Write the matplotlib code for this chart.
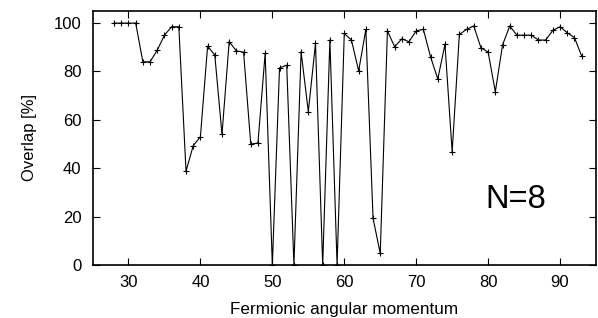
from matplotlib import pyplot as plt
import numpy as np

plt.rcParams['font.family'] = ['Liberation Sans', 'DejaVu Sans']

momentum = np.arange(28, 94)
overlap = [100, 100, 100, 100, 84, 84, 88.8, 95, 98.5, 98.5,
           38.8, 49.3, 53, 90.5, 86.8, 54, 92.3, 88.5, 88, 50,
           50.4, 87.5, 0, 81.5, 82.6, 0, 88.1, 63.4, 91.6, 0,
           93, 0, 95.7, 93, 80.2, 97.4, 19.3, 4.8, 96.8, 90.2,
           93.5, 92.3, 96.8, 97.4, 86, 76.9, 91.2, 46.8, 95.3, 97.4,
           98.8, 89.8, 88, 71.6, 90.9, 98.8, 95, 95, 95, 93,
           93, 97, 98.5, 96, 94, 86.4]

fig = plt.figure(figsize=(5.98, 3.18), dpi=100)
ax = fig.add_axes([0.1547, 0.1667, 0.842, 0.7987])

ax.plot(momentum, overlap, color='black', linewidth=0.8, marker='+',
        markersize=5, markeredgewidth=0.8)

ax.set_xlim(25, 95)
ax.set_ylim(0, 105)
ax.set_xticks(np.arange(30, 100, 10))
ax.set_yticks(np.arange(0, 101, 20))
ax.tick_params(direction='in', top=True, right=True, length=5, labelsize=12)
ax.tick_params(axis='y', pad=8)
ax.tick_params(axis='x', pad=7)
for s in ax.spines.values():
    s.set_linewidth(1.2)

ax.set_xlabel('Fermionic angular momentum', fontsize=12.3, labelpad=9)
ax.set_ylabel('Overlap [%]', fontsize=12, labelpad=12)
ax.text(83.9, 27, 'N=8', fontsize=23.5, ha='center', va='center')

plt.savefig('out.png', dpi=100)
